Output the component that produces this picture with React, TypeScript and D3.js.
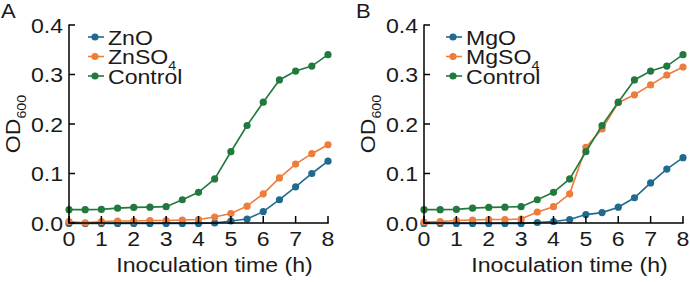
import React from "react";
import * as d3 from "d3";

const times = [0, 0.5, 1, 1.5, 2, 2.5, 3, 3.5, 4, 4.5, 5, 5.5, 6, 6.5, 7, 7.5, 8];
const xTicks = [0, 1, 2, 3, 4, 5, 6, 7, 8];
const yTicks = [0, 0.1, 0.2, 0.3, 0.4];

const control = [0.027, 0.027, 0.0275, 0.03, 0.0315, 0.032, 0.033, 0.047, 0.062, 0.089, 0.144, 0.197, 0.244, 0.289, 0.307, 0.317, 0.34];
const znSO4 = [0.003, 0.0005, 0.003, 0.004, 0.004, 0.005, 0.005, 0.006, 0.007, 0.012, 0.019, 0.034, 0.059, 0.091, 0.119, 0.14, 0.158];
const znO = [-0.001, -0.001, -0.001, -0.001, -0.001, -0.001, -0.001, -0.001, -0.001, 0.0, 0.004, 0.008, 0.023, 0.047, 0.073, 0.1, 0.125];
const mgSO4 = [0.002, 0.003, 0.005, 0.006, 0.007, 0.007, 0.008, 0.022, 0.033, 0.059, 0.153, 0.19, 0.243, 0.259, 0.279, 0.299, 0.315];
const mgO = [-0.001, -0.001, -0.001, -0.001, -0.001, -0.001, -0.001, 0.001, 0.003, 0.007, 0.017, 0.021, 0.032, 0.051, 0.081, 0.109, 0.132];

const BLUE = "#1f6a8e";
const ORANGE = "#ee7c3a";
const GREEN = "#22793e";

const FONT = "'Liberation Sans', Arial, sans-serif";
const SX = 1.1;
const FS = 21;

type Series = { name: string; sub?: string; color: string; values: number[] };

const panelA: Series[] = [
  { name: "ZnO", color: BLUE, values: znO },
  { name: "ZnSO", sub: "4", color: ORANGE, values: znSO4 },
  { name: "Control", color: GREEN, values: control },
];
const panelB: Series[] = [
  { name: "MgO", color: BLUE, values: mgO },
  { name: "MgSO", sub: "4", color: ORANGE, values: mgSO4 },
  { name: "Control", color: GREEN, values: control },
];

function T({ x, y, anchor = "start", size = FS, rotate = 0, children }: any) {
  return (
    <text
      transform={`translate(${x},${y}) rotate(${rotate}) scale(${SX},1)`}
      textAnchor={anchor}
      fontSize={size}
      fontFamily={FONT}
      fill="#1a1a1a"
    >
      {children}
    </text>
  );
}

function Panel({ ox, label, series, legendDx }: { ox: number; label: string; series: Series[]; legendDx: number }) {
  const x0 = ox + 69;
  const x = d3.scaleLinear().domain([0, 8]).range([x0, x0 + 259]);
  const y = d3.scaleLinear().domain([0, 0.4]).range([223, 25]);
  const line = d3
    .line<number>()
    .x((_, i) => x(times[i]))
    .y((v) => y(v));
  return (
    <g>
      <T x={ox + 1} y={18} size={20}>{label}</T>
      {series.map((s) => (
        <g key={s.name}>
          <path d={line(s.values) || ""} fill="none" stroke={s.color} strokeWidth={1.6} />
          {s.values.map((v, i) => (
            <circle key={i} cx={x(times[i])} cy={y(v)} r={3.6} fill={s.color} />
          ))}
        </g>
      ))}
      {/* axes */}
      <line x1={x0} x2={x0} y1={y(0.4) - 0.5} y2={y(0) + 0.7} stroke="#000" strokeWidth={1.5} />
      <line x1={x0} x2={x(8) + 0.7} y1={y(0)} y2={y(0)} stroke="#000" strokeWidth={1.5} />
      {yTicks.map((t) => (
        <g key={"y" + t}>
          <line x1={x0} x2={x0 + 6} y1={y(t)} y2={y(t)} stroke="#000" strokeWidth={1.5} />
          <T x={x0 - 6} y={y(t) + 7.5} anchor="end">{d3.format(".1f")(t)}</T>
        </g>
      ))}
      {xTicks.map((t) => (
        <g key={"x" + t}>
          <line x1={x(t)} x2={x(t)} y1={y(0)} y2={y(0) - 7} stroke="#000" strokeWidth={1.5} />
          <T x={x(t)} y={246} anchor="middle">{t}</T>
        </g>
      ))}
      <T x={(x(0) + x(8)) / 2 + 16} y={272} anchor="middle">Inoculation time (h)</T>
      <text
        transform={`translate(${ox + 20},${124}) rotate(-90) scale(${SX},1)`}
        textAnchor="middle"
        fontSize={FS}
        fontFamily={FONT}
        fill="#1a1a1a"
      >
        OD<tspan fontSize={13} dy={6}>600</tspan>
      </text>
      {series.map((s, i) => {
        const ly = 37 + i * 19.5;
        const lx = x0 + legendDx;
        return (
          <g key={"l" + s.name}>
            <line x1={lx} x2={lx + 16} y1={ly} y2={ly} stroke={s.color} strokeWidth={1.6} />
            <circle cx={lx + 7} cy={ly} r={3.6} fill={s.color} />
            <text
              transform={`translate(${lx + 20},${ly + 7.5}) scale(${SX},1)`}
              fontSize={FS}
              fontFamily={FONT}
              fill="#1a1a1a"
            >
              {s.name}
              {s.sub ? <tspan fontSize={13} dy={6}>{s.sub}</tspan> : null}
            </text>
          </g>
        );
      })}
    </g>
  );
}

export default function App() {
  return (
    <svg width={690} height={282} style={{ position: "absolute", left: 0, top: 0, background: "#fff" }}>
      <rect width={690} height={282} fill="#fff" />
      <Panel ox={0} label="A" series={panelA} legendDx={19} />
      <Panel ox={355} label="B" series={panelB} legendDx={22} />
    </svg>
  );
}
